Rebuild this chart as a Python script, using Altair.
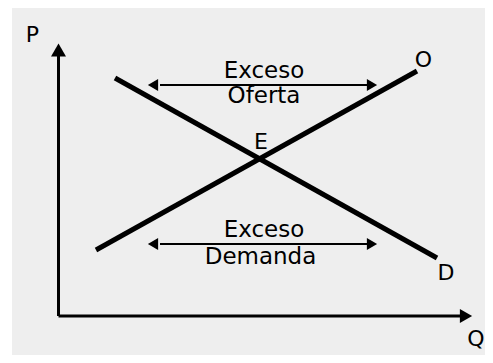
import altair as alt
import pandas as pd

# Diagram coordinates: q grows to the right, p grows upward (units ~ pixels)
W, H = 477, 347

# Background panel
bg_q = [4]; bg_q2 = [477]; bg_p = [0]; bg_p2 = [347]

# Axes (P vertical, Q horizontal)
axis_q = [50.5, 50.5]
axis_q2 = [50.5, 458]
axis_p = [39, 39]
axis_p2 = [305, 39]

# Curves: Demanda (D) and Oferta (O)
curve_names = ["D", "O"]
curve_q = [107, 88]
curve_p = [277, 105]
curve_q2 = [429, 409]
curve_p2 = [97, 284]

# Excess arrows
exc_q = [152, 152]
exc_q2 = [362, 362]
exc_p = [270, 111]

# Arrow heads
head_q = [50.5, 458, 145, 364, 145, 364]
head_p = [305, 39, 270, 270, 111, 111]
head_shape = ["triangle-up", "triangle-right", "triangle-left", "triangle-right", "triangle-left", "triangle-right"]
head_size = [225, 200, 140, 140, 140, 140]

# Text labels
lab_text = ["P", "Q", "O", "D", "E", "Exceso", "Oferta", "Exceso", "Demanda"]
lab_q = [24.5, 468, 415.5, 438, 253, 256, 256, 256, 252.5]
lab_p = [313, 9, 288, 75, 206, 277, 252, 118, 91]
lab_size = [22, 22, 22, 22, 22, 23, 23, 23, 23]

xs = alt.Scale(domain=[0, W], nice=False, zero=False)
ys = alt.Scale(domain=[0, H], nice=False, zero=False)

bg = alt.Chart(pd.DataFrame({"q": bg_q, "q2": bg_q2, "p": bg_p, "p2": bg_p2})).mark_rect(
    color="#eeeeee").encode(
    x=alt.X("q:Q", scale=xs, axis=None), x2="q2", y=alt.Y("p:Q", scale=ys, axis=None), y2="p2")

axes = alt.Chart(pd.DataFrame({"q": axis_q, "q2": axis_q2, "p": axis_p, "p2": axis_p2})).mark_rule(
    color="black", strokeWidth=3).encode(
    x=alt.X("q:Q", scale=xs, axis=None), x2="q2", y=alt.Y("p:Q", scale=ys, axis=None), y2="p2")

curves = alt.Chart(pd.DataFrame({"name": curve_names, "q": curve_q, "q2": curve_q2, "p": curve_p, "p2": curve_p2})).mark_rule(
    color="black", strokeWidth=5).encode(
    x=alt.X("q:Q", scale=xs, axis=None), x2="q2", y=alt.Y("p:Q", scale=ys, axis=None), y2="p2")

excess = alt.Chart(pd.DataFrame({"q": exc_q, "q2": exc_q2, "p": exc_p})).mark_rule(
    color="black", strokeWidth=2).encode(
    x=alt.X("q:Q", scale=xs, axis=None), x2="q2", y=alt.Y("p:Q", scale=ys, axis=None))

heads = alt.Chart(pd.DataFrame({"q": head_q, "p": head_p, "shape": head_shape, "size": head_size})).mark_point(
    filled=True, color="black", opacity=1, strokeWidth=0).encode(
    x=alt.X("q:Q", scale=xs, axis=None), y=alt.Y("p:Q", scale=ys, axis=None),
    shape=alt.Shape("shape:N", scale=None), size=alt.Size("size:Q", scale=None))

labels = alt.Chart(pd.DataFrame({"t": lab_text, "q": lab_q, "p": lab_p, "s": lab_size})).mark_text(
    font="DejaVu Sans", color="black", align="center", baseline="alphabetic").encode(
    x=alt.X("q:Q", scale=xs, axis=None), y=alt.Y("p:Q", scale=ys, axis=None), text="t:N",
    size=alt.Size("s:Q", scale=None))

chart = alt.layer(bg, axes, curves, excess, heads, labels).properties(
    width=W, height=H, padding=0, autosize=alt.AutoSizeParams(type="none"),
    background="white").configure_view(stroke=None)

chart.save("out.html", embed_options={"renderer": "svg", "actions": False})
